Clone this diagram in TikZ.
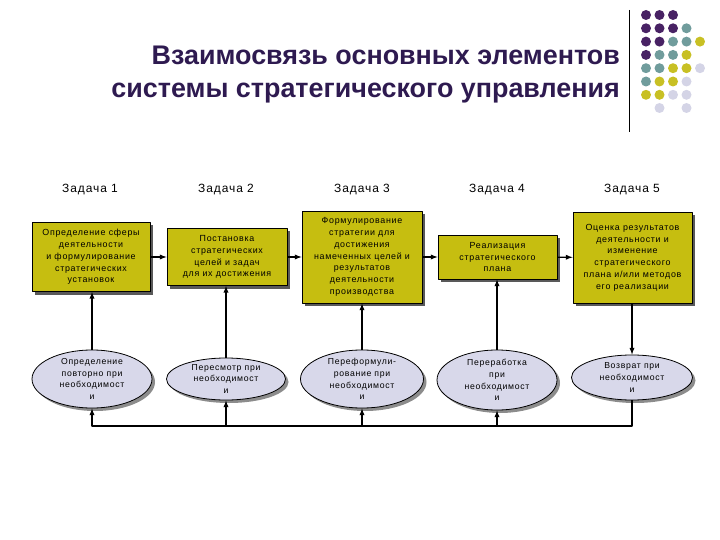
\documentclass[tikz,border=0pt]{standalone}
\usepackage{fontspec}
\setmainfont{Liberation Sans}
\newfontfamily\boxfont[LetterSpace=8]{Liberation Sans}
\usetikzlibrary{shapes.geometric,shadows}
\definecolor{titlecol}{RGB}{46,26,80}
\definecolor{boxcol}{RGB}{198,190,16}
\definecolor{ovalcol}{RGB}{216,216,234}
\definecolor{dotP}{RGB}{72,34,100}
\definecolor{dotT}{RGB}{112,156,156}
\definecolor{dotY}{RGB}{200,192,36}
\definecolor{dotL}{RGB}{212,212,230}
\begin{document}
\begin{tikzpicture}[>=latex,line join=bevel,x=1bp,y=-1bp,
  taskbox/.style={draw=black,line width=0.8bp,fill=boxcol,inner sep=2bp,align=center,
    font=\boxfont\fontsize{8.9}{11.8}\selectfont,
    drop shadow={shadow xshift=3bp,shadow yshift=-3bp,opacity=1,fill=black!65}},
  oval/.style={ellipse,draw=black,line width=0.8bp,fill=ovalcol,inner sep=0pt,
    drop shadow={shadow xshift=3bp,shadow yshift=-3bp,opacity=1,fill=black!45}},
  ovaltext/.style={align=center,inner sep=0pt,font=\boxfont\fontsize{8.7}{11.8}\selectfont},
  tasklabel/.style={font=\boxfont\fontsize{12}{13}\selectfont},
  link/.style={->,line width=1.3bp},
  dot/.style={circle,inner sep=0pt,minimum size=10bp}]
  \useasboundingbox (0,0) rectangle (720,540);
%%
  % Title
  \node [anchor=north east,align=right,text=titlecol,inner sep=0pt,
    font=\bfseries\fontsize{27}{33}\selectfont] (title) at (620,46)
    {Взаимосвязь основных элементов\\системы стратегического управления};
  \draw [line width=0.8bp] (629,10) -- (629,132);
  % Dots
  \foreach \row/\cols in {0/{P,P,P},1/{P,P,P,T},2/{P,P,T,T,Y},3/{P,T,T,Y},
      4/{T,T,Y,Y,L},5/{T,Y,Y,L},6/{Y,Y,L,L}}{
    \foreach \c [count=\i from 0] in \cols {
      \node [dot,fill=dot\c] (dot-\row-\i) at (646+13.5*\i,15+13.3*\row) {};
    }
  }
  \node [dot,fill=dotL] (dot-7-1) at (659.5,108) {};
  \node [dot,fill=dotL] (dot-7-3) at (686.5,108) {};
  % Labels
  \node [tasklabel] (t1) at (90,190) {Задача 1};
  \node [tasklabel] (t2) at (226,190) {Задача 2};
  \node [tasklabel] (t3) at (362,190) {Задача 3};
  \node [tasklabel] (t4) at (497,190) {Задача 4};
  \node [tasklabel] (t5) at (632,190) {Задача 5};
  % Node: Box1
  \node [taskbox,minimum width=118bp,minimum height=69bp] (b1) at (91,257)
    {Определение сферы\\деятельности\\и формулирование\\стратегических\\установок};
  % Node: Box2
  \node [taskbox,minimum width=120bp,minimum height=57bp] (b2) at (227,257)
    {Постановка\\стратегических\\целей и задач\\для их достижения};
  % Node: Box3
  \node [taskbox,minimum width=120bp,minimum height=92bp] (b3) at (362,257)
    {Формулирование\\стратегии для\\достижения\\намеченных целей и\\результатов\\деятельности\\производства};
  % Node: Box4
  \node [taskbox,minimum width=119bp,minimum height=44bp] (b4) at (497.5,257)
    {Реализация\\стратегического\\плана};
  % Node: Box5
  \node [taskbox,minimum width=119bp,minimum height=91bp] (b5) at (632.5,257.5)
    {Оценка результатов\\деятельности и\\изменение\\стратегического\\плана и/или методов\\его реализации};
  % Node: Oval1
  \node [oval,minimum width=120bp,minimum height=58bp] (e1) at (92,379) {};
  \node [ovaltext] (e1t) at (e1) {Определение\\повторно при\\необходимост\\и};
  % Node: Oval2
  \node [oval,minimum width=119bp,minimum height=42bp] (e2) at (226,379) {};
  \node [ovaltext] (e2t) at (e2) {Пересмотр при\\необходимост\\и};
  % Node: Oval3
  \node [oval,minimum width=123bp,minimum height=58bp] (e3) at (362,379) {};
  \node [ovaltext] (e3t) at (e3) {Переформули-\\рование при\\необходимост\\и};
  % Node: Oval4
  \node [oval,minimum width=120bp,minimum height=60bp] (e4) at (497,380) {};
  \node [ovaltext] (e4t) at (e4) {Переработка\\при\\необходимост\\и};
  % Node: Oval5
  \node [oval,minimum width=121bp,minimum height=45bp] (e5) at (632,377.5) {};
  \node [ovaltext] (e5t) at (e5) {Возврат при\\необходимост\\и};
  % Edge: Box1 -> Box2 -> Box3 -> Box4 -> Box5
  \draw [link] (b1) -- (b2);
  \draw [link] (b2) -- (b3);
  \draw [link] (b3) -- (b4);
  \draw [link] (b4) -- (b5);
  % Edge: Oval -> Box
  \draw [link] (e1.north) -- (e1.north |- b1.south);
  \draw [link] (e2.north) -- (e2.north |- b2.south);
  \draw [link] (e3.north) -- (e3.north |- b3.south);
  \draw [link] (e4.north) -- (e4.north |- b4.south);
  % Edge: Box5 -> Oval5
  \draw [link] (b5.south -| e5.north) -- (e5.north);
  % Edge: Oval5 -> Oval1..Oval4
  \coordinate (loop) at (92,426);
  \draw [link] (e5.south) |- (loop) -- (e1.south);
  \draw [link] (e2.south |- loop) -- (e2.south);
  \draw [link] (e3.south |- loop) -- (e3.south);
  \draw [link] (e4.south |- loop) -- (e4.south);
%
\end{tikzpicture}
\end{document}
